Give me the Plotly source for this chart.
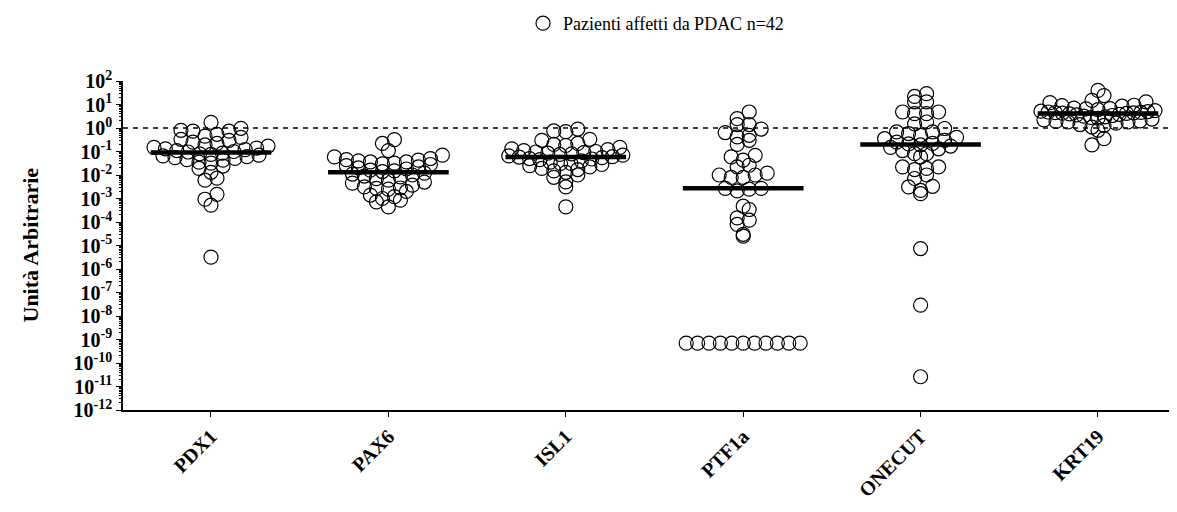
import math
import numpy as np
import plotly.graph_objects as go

# ---------------- data ----------------
categories = ["PDX1", "PAX6", "ISL1", "PTF1a", "ONECUT", "KRT19"]

pdx1 = [1.75, 0.97, 0.8, 0.73, 0.73, 0.54, 0.45, 0.40, 0.33, 0.3, 0.25, 0.22, 0.19, 0.17,
        0.15, 0.14, 0.13, 0.12, 0.11, 0.10, 0.095,
        0.085, 0.08, 0.075, 0.07, 0.065, 0.06, 0.055, 0.051, 0.045, 0.043, 0.035, 0.032,
        0.024, 0.019, 0.013, 0.0073, 0.006, 0.0015, 0.00093, 0.00052, 3.2e-6]
pax6 = [0.32, 0.22, 0.11, 0.07, 0.059, 0.05, 0.045, 0.043, 0.04, 0.036, 0.036, 0.032, 0.03,
        0.028, 0.025, 0.022, 0.02, 0.018, 0.016, 0.015, 0.014,
        0.012, 0.011, 0.01, 0.009, 0.0083, 0.007, 0.006, 0.005, 0.0045, 0.0037, 0.0031,
        0.0028, 0.0027, 0.0025, 0.002, 0.0014, 0.0012, 0.001, 0.00085, 0.00072, 0.00044]
isl1 = [0.9, 0.75, 0.7, 0.33, 0.3, 0.22, 0.2, 0.18, 0.15, 0.13, 0.12, 0.11, 0.1, 0.095,
        0.09, 0.085, 0.08, 0.075, 0.07, 0.065, 0.06,
        0.058, 0.055, 0.05, 0.048, 0.045, 0.04, 0.035, 0.031, 0.031, 0.028, 0.025, 0.022,
        0.019, 0.017, 0.015, 0.013, 0.01, 0.008, 0.0051, 0.0031, 0.00044]
ptf1a = [4.8, 2.5, 1.4, 1.4, 0.9, 0.64, 0.49, 0.42, 0.30, 0.2, 0.069, 0.059, 0.043, 0.026,
         0.022, 0.012, 0.01, 0.01, 0.0079, 0.0079,
         0.0027, 0.0027, 0.0025, 0.0021,
         0.00047, 0.00034, 0.00015, 0.00012, 7.9e-5, 3e-5, 2.5e-5,
         7e-10, 7e-10, 7e-10, 7e-10, 7e-10, 7e-10, 7e-10, 7e-10, 7e-10, 7e-10, 7e-10]
onecut = [29, 22, 13, 13, 4.8, 4.8, 4.1, 4.1, 1.8, 1.5, 0.95, 0.68, 0.68, 0.58, 0.49,
          0.4, 0.35, 0.3, 0.25, 0.22, 0.21,
          0.19, 0.17, 0.15, 0.13, 0.11, 0.081, 0.081, 0.059, 0.022, 0.022, 0.019, 0.017,
          0.01, 0.0071, 0.0033, 0.0031, 0.0022, 0.0016, 7.4e-6, 2.9e-8, 2.6e-11]
krt19 = [40, 24, 15, 13, 12, 9.3, 9, 8.5, 7, 6.7, 6.5, 6, 5.5, 5.2, 5, 4.8, 4.6, 4.5, 4.4,
         4.3, 4.2,
         4.0, 3.8, 3.6, 3.4, 3.2, 3.0, 2.8, 2.6, 2.4, 2.2, 2.0, 1.9, 1.8, 1.8, 1.6, 1.4,
         1.3, 1.1, 0.8, 0.35, 0.19]

series = [pdx1, pax6, isl1, ptf1a, onecut, krt19]
exponents = list(range(-12, 3))
legend_label = "Pazienti affetti da PDAC n=42"
y_title = "Unità Arbitrarie"
reference_level = 1.0

# ---------------- layout geometry ----------------
# page body has an 8px margin; figure sized to fit the 1177x512 window
W, H = 1161, 496
ML, MR, MT, MB = 115, 0, 73, 94
px_per_x = 177.4
XMIN = -0.496
XMAX = XMIN + (W - ML - MR) / px_per_x
YMIN, YMAX = -12, 2
px_per_dec = (H - MT - MB) / (YMAX - YMIN)
MARKER = 14
SPACING = 12.0   # horizontal spacing of points in a row (px)
BIN_H = 9.0      # height of a row bin (px)
HALF_W = 57.0    # maximum half-width of a row (px)


def scatter_offsets(vals):
    """Prism-like column scatter: points binned into rows, spread horizontally,
    lower values in the centre of each row. Returns x offsets in category units."""
    ys = [math.log10(v) * px_per_dec for v in vals]
    bins = {}
    for i, y in enumerate(ys):
        bins.setdefault(math.floor(y / BIN_H), []).append(i)
    offs = [0.0] * len(vals)
    for idx in bins.values():
        n = len(idx)
        sp = SPACING if n < 2 else min(SPACING, 2 * HALF_W / (n - 1))
        slots = [(j - (n - 1) / 2.0) * sp for j in range(n)]
        slots.sort(key=lambda s: (abs(s), s))
        idx_sorted = sorted(idx, key=lambda i: ys[i])
        for k, i in enumerate(idx_sorted):
            offs[i] = slots[k] / px_per_x
    return offs


fig = go.Figure()

xs_all, ys_all = [], []
for k, vals in enumerate(series):
    offs = scatter_offsets(vals)
    xs_all += [k + o for o in offs]
    ys_all += list(vals)

fig.add_trace(go.Scatter(
    x=xs_all, y=ys_all, mode="markers", name=legend_label, showlegend=True,
    marker=dict(symbol="circle-open", size=MARKER, color="black", line=dict(width=1.2)),
))

# median lines
for k, vals in enumerate(series):
    med = float(np.median(vals))
    fig.add_trace(go.Scatter(
        x=[k - 0.34, k + 0.34], y=[med, med], mode="lines", showlegend=False,
        line=dict(color="black", width=4.5), hoverinfo="skip",
    ))

# reference dashed line at 10^0
fig.add_shape(type="line", xref="paper", x0=0, x1=1, yref="y", y0=reference_level,
              y1=reference_level, line=dict(color="black", width=1.5, dash="5px,5px"),
              layer="below")

minor_vals = [m * 10.0 ** e for e in exponents[:-1] for m in range(2, 10)]
plot_w = W - ML - MR
plot_h = H - MT - MB

fig.update_layout(
    width=W, height=H,
    margin=dict(l=ML, r=MR, t=MT, b=MB, autoexpand=False),
    paper_bgcolor="white", plot_bgcolor="white",
    font=dict(family="Liberation Serif", color="black"),
    showlegend=True,
    legend=dict(orientation="h", x=(515 - ML) / plot_w, xanchor="left",
                y=1 + (MT + 3) / plot_h, yanchor="top",
                font=dict(size=18, family="Liberation Serif"), bgcolor="rgba(0,0,0,0)"),
    xaxis=dict(
        range=[XMIN, XMAX], tickmode="array", tickvals=list(range(len(categories))),
        ticktext=[f"<b>{c}</b>" for c in categories], tickangle=-45,
        tickfont=dict(size=20, family="Liberation Serif"), automargin=False,
        showline=True, linecolor="black", linewidth=1.5, ticks="outside", ticklen=5,
        tickwidth=1.2, tickcolor="black", showgrid=False, zeroline=False,
    ),
    yaxis=dict(
        type="log", range=[YMIN, YMAX], tickmode="array",
        tickvals=[10.0 ** e for e in exponents],
        ticktext=[f"<b>10<sup>{e}</sup></b>" for e in exponents],
        tickfont=dict(size=20, family="Liberation Serif"), automargin=False,
        showline=True, linecolor="black", linewidth=1.5, ticks="outside", ticklen=5,
        tickwidth=1.2, tickcolor="black", showgrid=False, zeroline=False,
        minor=dict(tickmode="array", tickvals=minor_vals, ticks="outside", ticklen=2.5,
                   tickwidth=1, tickcolor="black", showgrid=False),
    ),
)

fig.add_annotation(
    text=f"<b>{y_title}</b>", xref="paper", yref="paper",
    x=(22 - ML) / plot_w, y=0.5, xanchor="center", yanchor="middle",
    textangle=-90, showarrow=False, font=dict(size=22, family="Liberation Serif"),
)

fig.write_html("out.html")
